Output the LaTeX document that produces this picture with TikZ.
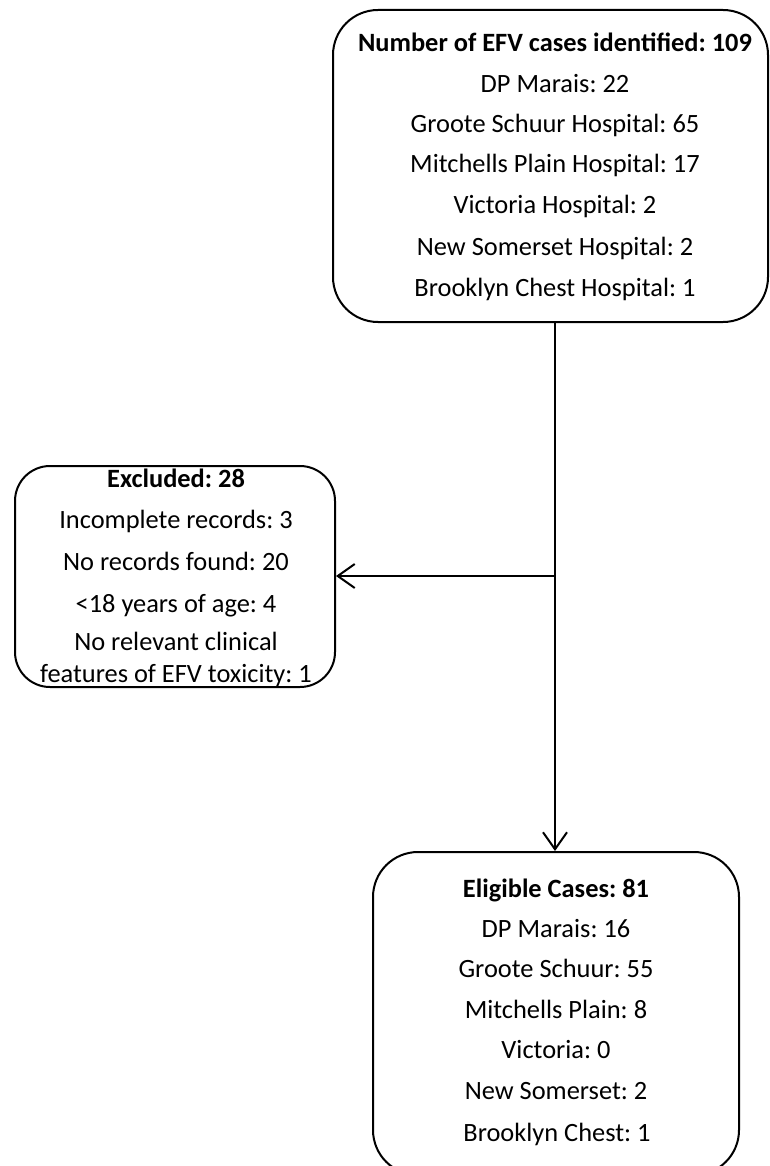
\documentclass[tikz,border=0pt]{standalone}
\usepackage{fontspec}
\setmainfont{Carlito}
\frenchspacing
\usetikzlibrary{arrows.meta}
\tikzset{
  box/.style={draw=black, line width=2pt, rounded corners=#1, inner sep=0pt},
  txt/.style={anchor=base, inner sep=0pt, font=\fontsize{26.4}{31}\selectfont},
  ttl/.style={txt, font=\fontsize{26.4}{31}\selectfont\bfseries},
  conn/.style={line width=2pt, -{Straight Barb[length=17pt, width=24pt, line width=2pt]}}
}
\begin{document}
\begin{tikzpicture}[x=1pt, y=1pt]
\useasboundingbox (0,0) rectangle (770,-1166);
\clip (0,0) rectangle (770,-1166);
% boxes
\node[box=45pt, minimum width=435pt, minimum height=312pt] (top) at (550.5,-166) {};
\node[box=35pt, minimum width=320pt, minimum height=221pt] (excl) at (175,-576.5) {};
\node[box=45pt, minimum width=366pt, minimum height=323pt] (elig) at (556,-1013.5) {};
% top texts
\node[ttl] (a1) at (555,-52) {Number of EFV cases identified: 109};
\node[txt] (a2) at (555,-93) {DP Marais: 22};
\node[txt] (a3) at (555,-133) {Groote Schuur Hospital: 65};
\node[txt] (a4) at (555,-173) {Mitchells Plain Hospital: 17};
\node[txt] (a5) at (555,-214) {Victoria Hospital: 2};
\node[txt] (a6) at (555,-255) {New Somerset Hospital: 2};
\node[txt] (a7) at (555,-296) {Brooklyn Chest Hospital: 1};
% excluded texts
\node[ttl] (b1) at (176,-487) {Excluded: 28};
\node[txt] (b2) at (176,-528) {Incomplete records: 3};
\node[txt] (b3) at (176,-570) {No records found: 20};
\node[txt] (b4) at (176,-612) {<18 years of age: 4};
\node[txt] (b5) at (176,-650) {No relevant clinical};
\node[txt] (b6) at (176,-682) {features of EFV toxicity: 1};
% eligible texts
\node[ttl] (c1) at (556,-897) {Eligible Cases: 81};
\node[txt] (c2) at (556,-937) {DP Marais: 16};
\node[txt] (c3) at (556,-977) {Groote Schuur: 55};
\node[txt] (c4) at (556,-1018) {Mitchells Plain: 8};
\node[txt] (c5) at (556,-1058) {Victoria: 0};
\node[txt] (c6) at (556,-1099) {New Somerset: 2};
\node[txt] (c7) at (557,-1141) {Brooklyn Chest: 1};
% connectors
\coordinate (j) at (555,-576);
\draw[line width=2pt] (top.south -| j) -- (j);
\draw[conn] (j) -- (excl.east |- j);
\draw[conn] (j) -- (elig.north -| j);
\end{tikzpicture}
\end{document}
